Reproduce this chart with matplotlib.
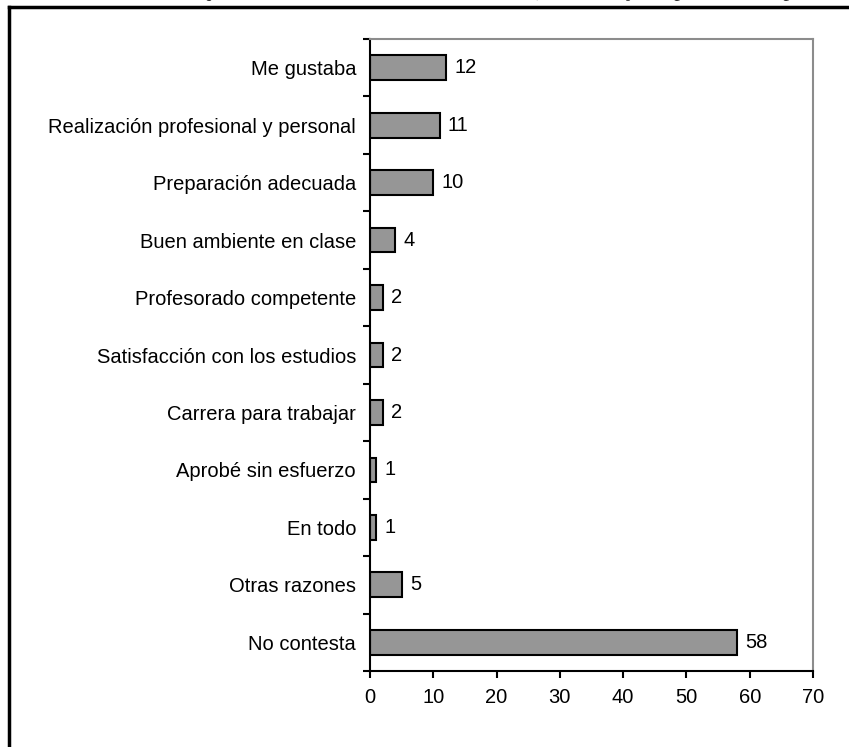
import matplotlib.pyplot as plt
from matplotlib.lines import Line2D

categorias = ["Me gustaba", "Realización profesional y personal", "Preparación adecuada",
              "Buen ambiente en clase", "Profesorado competente",
              "Satisfacción con los estudios", "Carrera para trabajar",
              "Aprobé sin esfuerzo", "En todo", "Otras razones", "No contesta"]
valores = [12, 11, 10, 4, 2, 2, 2, 1, 1, 5, 58]

plt.rcParams['font.family'] = ['Liberation Sans', 'DejaVu Sans']
fs = 14.5

fig = plt.figure(figsize=(8.49, 7.47), dpi=100)
ax = fig.add_axes([0.4358, 0.1017, 0.5218, 0.8461])

n = len(categorias)
y = [n - 1 - i for i in range(n)]
ax.barh(y, valores, height=0.43, color='#969696', edgecolor='black', linewidth=1.5)
for yi, v in zip(y, valores):
    ax.text(v + 1.3, yi, str(v), va='center', ha='left', fontsize=fs)

ax.set_xlim(0, 70)
ax.set_ylim(-0.5, n - 0.5)
ax.set_xticks(range(0, 71, 10))
ax.set_yticks(y)
ax.set_yticklabels(categorias, fontsize=fs)
ax.set_yticks([i - 0.5 for i in range(n + 1)], minor=True)
ax.tick_params(axis='y', which='major', length=0, pad=10)
ax.tick_params(axis='y', which='minor', length=5, width=1.5, direction='out')
ax.tick_params(axis='x', length=5, width=1.5, direction='out', labelsize=fs, pad=7)

for s in ['left', 'bottom']:
    ax.spines[s].set_linewidth(1.5)
for s in ['top', 'right']:
    ax.spines[s].set_color('#8c8c8c')
    ax.spines[s].set_linewidth(1.5)

# recuadro exterior del gráfico
fig.add_artist(Line2D([0.011, 0.011], [0.0, 0.991], color='black', lw=2.5,
                      transform=fig.transFigure))
fig.add_artist(Line2D([0.011, 1.0], [0.991, 0.991], color='black', lw=2.5,
                      transform=fig.transFigure))
fig.text(0.55, 1.012, "Para los que están satisfechos con sus estudios) Porcentaje respuesta múltiple",
         ha='center', va='center', fontsize=16, family='Liberation Serif', color='#333333')

fig.savefig('out.png', dpi=100)
